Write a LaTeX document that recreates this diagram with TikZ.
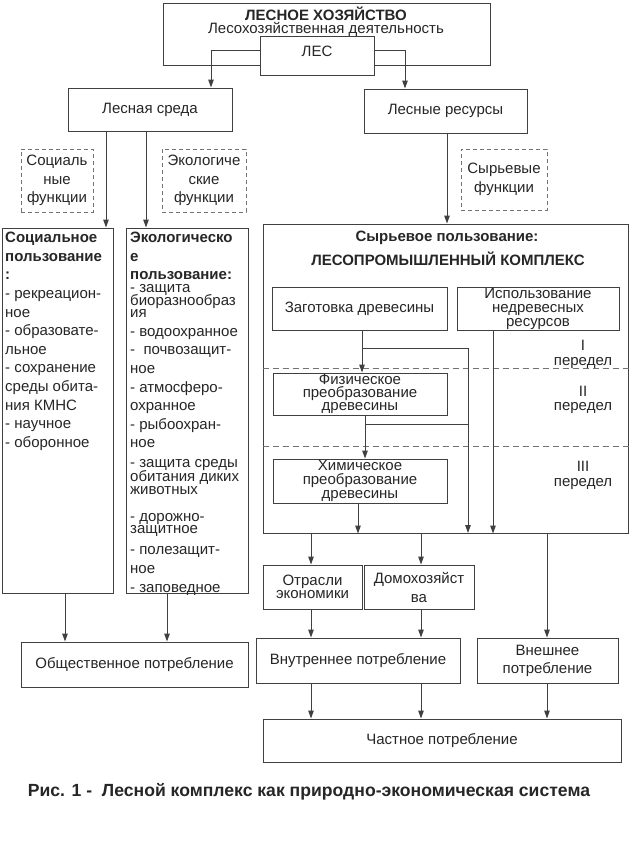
\documentclass[tikz,border=0pt]{standalone}
\usepackage{fontspec}
\setmainfont{Liberation Sans}
\usetikzlibrary{arrows.meta,calc}
\begin{document}
\begin{tikzpicture}[x=1pt,y=-1pt,
  every node/.style={text=black!85},
  box/.style={draw=black!75, line width=1pt, fill=white, inner sep=1pt, align=center, font=\fontsize{15}{18.5}\selectfont},
  dbox/.style={draw=black!55, line width=1pt, dash pattern=on 4pt off 3pt, inner sep=1pt, align=center, font=\fontsize{15}{18.5}\selectfont},
  lbl/.style={inner sep=0pt, font=\fontsize{15}{18.5}\selectfont, align=center},
  blbl/.style={inner sep=0pt, font=\fontsize{15}{18.5}\selectfont\bfseries, align=center},
  arr/.style={draw=black!75, line width=1pt, -{Triangle[length=8pt,width=5.5pt]}},
  ln/.style={draw=black!75, line width=1pt},
  sep/.style={draw=black!55, line width=1pt, dash pattern=on 6pt off 4pt}
]
\useasboundingbox (0,0) rectangle (636,857);
\fill[white] (0,0) rectangle (636,857);

% top
\node[box, minimum width=327pt, minimum height=62pt] (top) at (326.5,34) {};
\node[blbl] (toptitle) at (326,14) {ЛЕСНОЕ ХОЗЯЙСТВО};
\node[lbl] (topsub) at (326,29) {Лесохозяйственная деятельность};
\node[box, minimum width=114pt, minimum height=39pt] (les) at (317,55.5) {};
\node[lbl] (lestext) at (317,51) {ЛЕС};

\node[box, minimum width=164pt, minimum height=43pt] (sreda) at (150,109.5) {Лесная среда};
\node[box, minimum width=163pt, minimum height=44pt] (resursy) at (445.5,111) {Лесные ресурсы};

\draw[arr] ([yshift=5pt]les.west) -| ([xshift=61pt]sreda.north);
\draw[arr] ([yshift=5pt]les.east) -| ([xshift=-40.5pt]resursy.north);

% dashed function boxes
\node[dbox, minimum width=72pt, minimum height=63pt] (socf) at (57,180.5) {Социаль\\ные\\функции};
\node[dbox, minimum width=84pt, minimum height=63pt] (ecof) at (204,180.5) {Экологиче\\ские\\функции};
\node[dbox, minimum width=86pt, minimum height=61pt] (syrf) at (504,179.5) {Сырьевые\\функции};

% left columns
\node[box, minimum width=111pt, minimum height=365pt] (soc) at (57.5,410.5) {};
\node[box, minimum width=122pt, minimum height=365pt] (eco) at (187,410.5) {};
\node[anchor=north west, inner sep=0pt, align=left, font=\fontsize{15}{18.6}\selectfont] (soctext) at (5,232)
 {\textbf{Социальное}\\ \textbf{пользование}\\ \textbf{:}\\ - рекреацион-\\ ное\\ - образовате-\\ льное\\ - сохранение\\ среды обита-\\ ния КМНС\\ - научное\\ - оборонное};
\node[anchor=north west, inner sep=0pt, align=left, font=\fontsize{15}{18.6}\selectfont] (ecotext) at (130,232)
 {\textbf{Экологическо}\\ \textbf{е}\\ \textbf{пользование:}\\[-5.5pt] - защита\\[-6.5pt] биоразнообраз\\[-6.5pt] ия\\[0.5pt] - водоохранное\\ -\ \ почвозащит-\\ ное\\ - атмосферо-\\ охранное\\ - рыбоохран-\\ ное\\[1.5pt] - защита среды\\[-5pt] обитания диких\\[-6pt] животных\\[9pt] - дорожно-\\[-6.5pt] защитное\\[2.5pt] - полезащит-\\ ное\\ - заповедное};

\draw[arr] ([xshift=-44pt]sreda.south) -- ([xshift=-44pt]sreda.south |- soc.north);
\draw[arr] ([xshift=-4pt]sreda.south) -- ([xshift=-4pt]sreda.south |- eco.north);

\node[box, minimum width=227pt, minimum height=45pt] (obsh) at (134.5,664.5) {Общественное потребление};
\draw[arr] ([xshift=7.5pt]soc.south) -- ([xshift=7.5pt]soc.south |- obsh.north);
\draw[arr] ([xshift=-20pt]eco.south) -- ([xshift=-20pt]eco.south |- obsh.north);

% complex
\node[box, minimum width=365pt, minimum height=309pt] (complex) at (445.5,378.5) {};
\draw[arr] ([xshift=1.5pt]resursy.south) -- ([xshift=1.5pt]resursy.south |- complex.north);
\node[blbl] (ctitle1) at (447,238) {Сырьевое пользование:};
\node[blbl] (ctitle2) at (448,259) {ЛЕСОПРОМЫШЛЕННЫЙ КОМПЛЕКС};

\draw[sep] ($(complex.north west)+(0,145)$) -- ($(complex.north east)+(0,145)$);
\draw[sep] ($(complex.north west)+(0,223)$) -- ($(complex.north east)+(0,223)$);

\node[box, minimum width=175pt, minimum height=43pt] (zag) at (359.5,308.5) {Заготовка древесины};
\node[box, inner sep=0pt, minimum width=162pt, minimum height=43pt, font=\fontsize{15}{14}\selectfont] (isp) at (538,308.5) {Использование\\недревесных\\ресурсов};
\node[box, inner sep=0pt, minimum width=174pt, minimum height=42pt, font=\fontsize{15}{13}\selectfont] (fiz) at (360,394) {Физическое\\преобразование\\древесины};
\node[box, inner sep=0pt, minimum width=174pt, minimum height=44pt, font=\fontsize{15}{14}\selectfont] (him) at (360,481) {Химическое\\преобразование\\древесины};

\draw[arr] ([xshift=2.5pt]zag.south) -- ([xshift=2.5pt]zag.south |- fiz.north);
\coordinate (j1) at (362,348);
\coordinate (j1e) at (468,533);
\draw[arr] (j1) -| (j1e);
\draw[arr] ([xshift=5pt]fiz.south) -- ([xshift=5pt]fiz.south |- him.north);
\coordinate (j2) at (365,424);
\coordinate (j2e) at (468,424);
\draw[ln] (j2) -- (j2e);
\draw[arr] ([xshift=-45pt]isp.south) -- ([xshift=-45pt]isp.south |- complex.south);
\draw[arr] ([xshift=-2pt]him.south) -- ([xshift=-2pt]him.south |- complex.south);

\node[lbl] (p1a) at (583,345) {I};
\node[lbl] (p1b) at (583,363) {передел};
\node[lbl] (p2a) at (583,391) {II};
\node[lbl] (p2b) at (583,408) {передел};
\node[lbl] (p3a) at (583,466) {III};
\node[lbl] (p3b) at (583,484) {передел};

% consumers
\node[box, minimum width=99pt, minimum height=44pt, font=\fontsize{15}{13.5}\selectfont] (otr) at (312.5,587) {Отрасли\\экономики};
\node[box, minimum width=110pt, minimum height=44pt, font=\fontsize{15}{19}\selectfont] (dom) at (419,587) {Домохозяйст\\ва};
\node[box, minimum width=204pt, minimum height=45pt] (vnutr) at (358,660.5) {Внутреннее потребление};
\node[box, minimum width=141pt, minimum height=45pt, font=\fontsize{15}{18}\selectfont] (vnesh) at (547.5,660.5) {Внешнее\\потребление};
\node[box, minimum width=358pt, minimum height=43pt] (chast) at (442,740.5) {Частное потребление};

\draw[arr] ([xshift=-134.5pt]complex.south) -- ([xshift=-134.5pt]complex.south |- otr.north);
\draw[arr] ([xshift=-24.5pt]complex.south) -- ([xshift=-24.5pt]complex.south |- dom.north);
\draw[arr] ([xshift=101.5pt]complex.south) -- ([xshift=101.5pt]complex.south |- vnesh.north);
\draw[arr] ([xshift=-1.5pt]otr.south) -- ([xshift=-1.5pt]otr.south |- vnutr.north);
\draw[arr] ([xshift=2pt]dom.south) -- ([xshift=2pt]dom.south |- vnutr.north);
\draw[arr] ([xshift=-47pt]vnutr.south) -- ([xshift=-47pt]vnutr.south |- chast.north);
\draw[arr] ([xshift=63pt]vnutr.south) -- ([xshift=63pt]vnutr.south |- chast.north);
\draw[arr] ([xshift=-0.5pt]vnesh.south) -- ([xshift=-0.5pt]vnesh.south |- chast.north);

\node[inner sep=0pt, font=\fontsize{17.6}{19}\selectfont\bfseries] (caption) at (309,792) {Рис. 1 -\ \ Лесной комплекс как природно-экономическая система};
\end{tikzpicture}
\end{document}
